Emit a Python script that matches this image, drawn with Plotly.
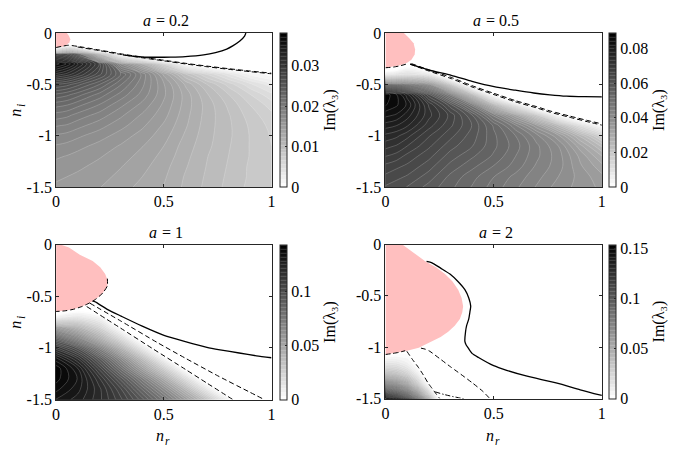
import plotly.graph_objects as go

W, H = 679, 455
FONT = "Liberation Serif"

# ---------------- data ----------------
# colour-bar maxima of Im(lambda_3)
zmax_values = [0.038, 0.089, 0.144, 0.154]
a_values = ["0.2", "0.5", "1", "2"]

# ---- panel 1 (a = 0.2) field: rows = n_i, columns = n_r
p1_nr = [0, 0.05, 0.1, 0.2, 0.3, 0.4, 0.5, 0.6, 0.7, 0.8, 0.9, 1.0]
p1_ni = [0, -0.1, -0.2, -0.3, -0.4, -0.5, -0.6, -0.7, -0.8, -0.9, -1.0, -1.1, -1.2, -1.3, -1.4, -1.5]
p1_z = [
    [-0.04, -0.03, -0.03, -0.06, -0.05, -0.05, -0.06, -0.05, -0.05, -0.05, -0.05, -0.05],
    [-0.02, -0.00725, -0.0111, -0.0223, -0.02, -0.03, -0.04, -0.03, -0.03, -0.03, -0.03, -0.03],
    [0.030, 0.029, 0.026, 0.012, -0.0005, -0.007, -0.013, -0.01, -0.015, -0.015, -0.015, -0.015],
    [0.0375, 0.036, 0.0335, 0.0285, 0.018, 0.013, 0.007, 0.0005, -0.0016, -0.0033, -0.0035, -0.0027],
    [0.033, 0.032, 0.0305, 0.027, 0.0228, 0.0187, 0.014, 0.0095, 0.0065, 0.004, 0.0015, 0.0003],
    [0.0275, 0.027, 0.026, 0.0238, 0.021, 0.0183, 0.0153, 0.0122, 0.0095, 0.0072, 0.005, 0.0032],
    [0.0245, 0.024, 0.0232, 0.0215, 0.0196, 0.0177, 0.0154, 0.0129, 0.0106, 0.0086, 0.0067, 0.005],
    [0.0222, 0.0219, 0.0212, 0.0199, 0.0183, 0.0168, 0.015, 0.0129, 0.011, 0.0093, 0.0076, 0.0062],
    [0.0205, 0.0202, 0.0196, 0.0186, 0.0173, 0.016, 0.0146, 0.0127, 0.011, 0.0096, 0.0081, 0.0069],
    [0.0191, 0.0189, 0.0184, 0.0175, 0.0165, 0.0154, 0.0141, 0.0125, 0.0109, 0.0097, 0.0084, 0.0073],
    [0.0179, 0.0177, 0.0173, 0.0166, 0.0157, 0.0148, 0.0137, 0.0122, 0.0108, 0.0097, 0.0085, 0.0075],
    [0.0170, 0.0168, 0.0165, 0.0158, 0.0151, 0.0143, 0.0133, 0.0119, 0.0107, 0.0096, 0.0085, 0.0076],
    [0.0163, 0.0161, 0.0158, 0.0153, 0.0147, 0.0139, 0.013, 0.0117, 0.0105, 0.0095, 0.0085, 0.0077],
    [0.0158, 0.0156, 0.0154, 0.0149, 0.0143, 0.0136, 0.0127, 0.0115, 0.0104, 0.0094, 0.0084, 0.0077],
    [0.0154, 0.0152, 0.015, 0.0146, 0.014, 0.0133, 0.0125, 0.0113, 0.0103, 0.0093, 0.0084, 0.0077],
    [0.015, 0.0149, 0.0147, 0.0143, 0.0137, 0.013, 0.0123, 0.0112, 0.0102, 0.0092, 0.0083, 0.0077],
]

# ---- panel 2 (a = 0.5) field
p2_nr = [0, 0.05, 0.1, 0.2, 0.3, 0.4, 0.5, 0.6, 0.7, 0.8, 0.9, 1.0]
p2_ni = [0, -0.1, -0.2, -0.3, -0.4, -0.5, -0.6, -0.7, -0.8, -0.9, -1.0, -1.1, -1.2, -1.3, -1.4, -1.5]
p2_z = [
    [-0.05] * 12,
    [-0.04] * 12,
    [-0.03] * 12,
    [-0.0187, -0.015, -0.0051, -0.0187, -0.03, -0.03, -0.03, -0.03, -0.03, -0.03, -0.03, -0.03],
    [0.008, 0.01, 0.012, 0.008, -0.0147, -0.03, -0.03, -0.03, -0.03, -0.03, -0.03, -0.03],
    [0.062, 0.06, 0.055, 0.044, 0.022, -0.00675, -0.03, -0.03, -0.03, -0.03, -0.03, -0.03],
    [0.088, 0.085, 0.079, 0.063, 0.048, 0.027, -0.0005, -0.0233, -0.03, -0.03, -0.03, -0.03],
    [0.087, 0.085, 0.082, 0.071, 0.061, 0.048, 0.028, 0.01, -0.0086, -0.018, -0.03, -0.03],
    [0.083, 0.082, 0.079, 0.072, 0.066, 0.058, 0.046, 0.034, 0.02, 0.002, -0.0098, -0.019],
    [0.079, 0.078, 0.076, 0.070, 0.065, 0.060, 0.053, 0.045, 0.036, 0.025, 0.012, 0.001],
    [0.075, 0.074, 0.072, 0.067, 0.063, 0.059, 0.054, 0.049, 0.043, 0.036, 0.026, 0.016],
    [0.072, 0.071, 0.069, 0.065, 0.061, 0.058, 0.054, 0.050, 0.045, 0.040, 0.032, 0.024],
    [0.069, 0.068, 0.066, 0.063, 0.059, 0.056, 0.053, 0.049, 0.045, 0.041, 0.035, 0.029],
    [0.066, 0.065, 0.064, 0.061, 0.057, 0.054, 0.051, 0.048, 0.044, 0.041, 0.036, 0.032],
    [0.064, 0.063, 0.062, 0.059, 0.055, 0.052, 0.049, 0.046, 0.043, 0.040, 0.037, 0.034],
    [0.062, 0.061, 0.060, 0.057, 0.054, 0.051, 0.048, 0.045, 0.042, 0.039, 0.037, 0.035],
]

# ---- panel 3 (a = 1) field
p3_nr = [0, 0.1, 0.2, 0.3, 0.4, 0.5, 0.6, 0.7, 0.8, 0.9, 1.0]
p3_ni = [-0.5, -0.6, -0.7, -0.8, -0.9, -1.0, -1.1, -1.2, -1.3, -1.4, -1.5]
p3_z = [
    [-0.05] * 11,
    [-0.028, -0.0115, -0.0167, -0.05, -0.05, -0.05, -0.05, -0.05, -0.05, -0.05, -0.05],
    [0.007, 0.014, 0.005, -0.02, -0.05, -0.05, -0.05, -0.05, -0.05, -0.05, -0.05],
    [0.062, 0.045, 0.025, -0.0019, -0.03, -0.05, -0.05, -0.05, -0.05, -0.05, -0.05],
    [0.092, 0.072, 0.047, 0.02, -0.0094, -0.04, -0.05, -0.05, -0.05, -0.05, -0.05],
    [0.116, 0.1, 0.074, 0.045, 0.013, -0.0172, -0.047, -0.05, -0.05, -0.05, -0.05],
    [0.134, 0.118, 0.094, 0.067, 0.038, 0.006, -0.026, -0.055, -0.06, -0.06, -0.06],
    [0.143, 0.13, 0.107, 0.082, 0.056, 0.029, -0.0019, -0.03, -0.06, -0.06, -0.06],
    [0.142, 0.133, 0.116, 0.096, 0.074, 0.05, 0.021, -0.009, -0.04, -0.06, -0.06],
    [0.138, 0.131, 0.12, 0.105, 0.086, 0.066, 0.042, 0.013, -0.016, -0.045, -0.06],
    [0.133, 0.128, 0.12, 0.109, 0.095, 0.078, 0.058, 0.035, 0.007, -0.028, -0.06],
]

# ---- panel 4 (a = 2) field
p4_nr = [0, 0.05, 0.1, 0.15, 0.2, 0.25, 0.3]
p4_ni = [-1.0, -1.05, -1.1, -1.15, -1.2, -1.25, -1.3, -1.35, -1.4, -1.45, -1.5]
p4_z = [
    [-0.03] * 7,
    [-0.006, -0.004, -0.002, -0.03, -0.03, -0.03, -0.03],
    [0.004, 0.005, 0.003, -0.0049, -0.02, -0.03, -0.03],
    [0.015, 0.014, 0.008, -0.0031, -0.02, -0.03, -0.03],
    [0.028, 0.025, 0.016, 0.001, -0.0157, -0.03, -0.03],
    [0.043, 0.038, 0.027, 0.008, -0.0142, -0.03, -0.03],
    [0.062, 0.055, 0.042, 0.019, -0.0093, -0.03, -0.03],
    [0.082, 0.074, 0.058, 0.032, -0.0019, -0.03, -0.03],
    [0.105, 0.094, 0.078, 0.05, 0.014, -0.0327, -0.05],
    [0.13, 0.118, 0.1, 0.072, 0.032, -0.018, -0.04],
    [0.152, 0.14, 0.122, 0.095, 0.06, 0.0005, -0.04],
]

# ---- pink regions (n_r, n_i boundary)
pink1_nr = [0, 0.05, 0.06, 0.066, 0.062, 0.05, 0.03, 0.0]
pink1_ni = [0, 0, -0.03, -0.06, -0.09, -0.115, -0.133, -0.142]
pink2_nr = [0, 0.085, 0.11, 0.13, 0.137, 0.135, 0.12, 0.1, 0.07, 0.035, 0]
pink2_ni = [0, 0, -0.05, -0.1, -0.16, -0.21, -0.26, -0.29, -0.315, -0.33, -0.338]
pink3_nr = [0, 0.02, 0.06, 0.11, 0.17, 0.205, 0.228, 0.24, 0.238, 0.22, 0.2, 0.18, 0.156, 0.12, 0.08, 0.04, 0]
pink3_ni = [0, 0, -0.03, -0.1, -0.16, -0.22, -0.286, -0.35, -0.40, -0.46, -0.503, -0.535, -0.565, -0.6, -0.627, -0.642, -0.648]
pink4_nr = [0, 0.078, 0.13, 0.184, 0.235, 0.275, 0.31, 0.336, 0.352, 0.359, 0.355, 0.344, 0.32, 0.29, 0.255,
            0.215, 0.154, 0.1, 0.062, 0.03, 0]
pink4_ni = [0, 0, -0.08, -0.1625, -0.225, -0.2875, -0.36, -0.44, -0.52, -0.6, -0.66, -0.725, -0.79, -0.85, -0.9,
            -0.944, -1.006, -1.035, -1.05, -1.062, -1.071]

# ---- curves: (n_r list, n_i list, style)
p1_lines = [
    ([0, 0.03, 0.058, 0.1, 0.2, 0.302, 0.4, 0.5, 0.608, 0.7, 0.8, 0.9, 1.0],
     [-0.141, -0.128, -0.119, -0.13, -0.165, -0.203, -0.235, -0.265, -0.297, -0.322, -0.347, -0.37, -0.391], "dash"),
    ([0.1, 0.2, 0.302, 0.4, 0.5, 0.608, 0.7, 0.8, 0.9, 1.0],
     [-0.136, -0.171, -0.209, -0.241, -0.271, -0.303, -0.328, -0.353, -0.376, -0.397], "dash"),
    ([0.881, 0.875, 0.853, 0.82, 0.792, 0.74, 0.685, 0.6, 0.532, 0.47, 0.41, 0.36, 0.31],
     [0, -0.03, -0.078, -0.125, -0.156, -0.19, -0.213, -0.23, -0.235, -0.236, -0.234, -0.226, -0.212], "solid"),
]
p2_lines = [
    ([0, 0.035, 0.07, 0.1], [-0.338, -0.332, -0.318, -0.30], "dash"),
    ([0.114, 0.2, 0.304, 0.4, 0.502, 0.6, 0.7, 0.761, 0.85, 0.95, 1.0],
     [-0.303, -0.37, -0.444, -0.525, -0.60, -0.67, -0.73, -0.771, -0.82, -0.872, -0.897], "dash"),
    ([0.12, 0.2, 0.304, 0.4, 0.502, 0.6, 0.7, 0.761, 0.85, 0.95, 1.0],
     [-0.298, -0.358, -0.432, -0.513, -0.588, -0.658, -0.718, -0.759, -0.808, -0.86, -0.885], "dash"),
    ([0.114, 0.2, 0.304, 0.4, 0.502, 0.6, 0.685, 0.76, 0.837, 0.92, 1.0],
     [-0.303, -0.36, -0.412, -0.47, -0.522, -0.557, -0.584, -0.602, -0.615, -0.62, -0.622], "solid"),
]
p3_lines = [
    ([0.238, 0.238, 0.22, 0.2, 0.18, 0.156, 0.12, 0.08, 0.04, 0],
     [-0.33, -0.40, -0.46, -0.503, -0.535, -0.565, -0.6, -0.627, -0.642, -0.648], "dash"),
    ([0.17, 0.18, 0.24, 0.302, 0.4, 0.501, 0.6, 0.7, 0.761, 0.85, 0.93, 1.0],
     [-0.545, -0.553, -0.63, -0.693, -0.79, -0.879, -0.94, -0.995, -1.019, -1.05, -1.077, -1.096], "solid"),
    ([0.157, 0.3, 0.471, 0.6, 0.75, 0.9, 0.96],
     [-0.568, -0.74, -0.95, -1.1, -1.27, -1.43, -1.494], "dash"),
    ([0.142, 0.3, 0.45, 0.6, 0.7, 0.82],
     [-0.60, -0.81, -1.01, -1.208, -1.341, -1.5], "dash"),
]
p4_lines = [
    ([0, 0.03, 0.062, 0.091], [-1.071, -1.062, -1.05, -1.034], "dash"),
    ([0.099, 0.125, 0.152, 0.175, 0.198, 0.215, 0.236, 0.251],
     [-1.04, -1.12, -1.196, -1.27, -1.352, -1.4, -1.46, -1.5], "dash"),
    ([0.23, 0.27, 0.31, 0.35, 0.37], [-1.435, -1.46, -1.48, -1.497, -1.505], "dashdot"),
    ([0.164, 0.185, 0.205, 0.25, 0.3, 0.335, 0.4, 0.45, 0.479],
     [-1.009, -1.02, -1.04, -1.11, -1.19, -1.243, -1.345, -1.43, -1.493], "dash"),
    ([0.19, 0.215, 0.255, 0.298, 0.335, 0.367, 0.385, 0.394, 0.39, 0.385, 0.375, 0.37, 0.367, 0.373, 0.382,
      0.40, 0.43, 0.5, 0.56, 0.65, 0.793, 0.9, 1.0],
     [-0.165, -0.178, -0.23, -0.2875, -0.36, -0.44, -0.52, -0.6, -0.66, -0.725, -0.79, -0.85, -0.944, -0.978,
      -1.006, -1.06, -1.1, -1.18, -1.225, -1.28, -1.35, -1.415, -1.47], "solid"),
]

cb_ticks = [
    [0, 0.01, 0.02, 0.03],
    [0, 0.02, 0.04, 0.06, 0.08],
    [0, 0.05, 0.1],
    [0, 0.05, 0.1, 0.15],
]
cb_ticktext = [
    ["0", "0.01", "0.02", "0.03"],
    ["0", "0.02", "0.04", "0.06", "0.08"],
    ["0", "0.05", "0.1"],
    ["0", "0.05", "0.1", "0.15"],
]
cb_title = "Im(λ\u2083)"

# ---------------- layout geometry (pixels) ----------------
plot_px = [  # left, right, top, bottom
    (52.7, 270.7, 26.0, 186.0),
    (386.0, 605.0, 26.0, 186.0),
    (52.7, 270.7, 245.7, 406.7),
    (386.0, 605.0, 245.7, 405.7),
]
cb_left_px = [279.3, 612.7, 279.3, 612.7]

fields = [(p1_nr, p1_ni, p1_z), (p2_nr, p2_ni, p2_z), (p3_nr, p3_ni, p3_z), (p4_nr, p4_ni, p4_z)]
pinks = [(pink1_nr, pink1_ni), (pink2_nr, pink2_ni), (pink3_nr, pink3_ni), (pink4_nr, pink4_ni)]
lines = [p1_lines, p2_lines, p3_lines, p4_lines]

dash_map = {"solid": "solid", "dash": "5px,3px", "dashdot": "5px,2px,1.5px,2px"}


def tfont(size=16, style="normal"):
    return dict(family=FONT, size=size, color="black", style=style)


def text_w(s):
    # rough pixel width of a string at 16 px
    w = 0
    for ch in s:
        w += {"=": 9, " ": 4, ".": 4}.get(ch, 8)
    return w


fig = go.Figure()

for k in range(4):
    ax = "" if k == 0 else str(k + 1)
    xa, ya = "x" + ax, "y" + ax
    nr, ni, z = fields[k]
    zm = zmax_values[k]
    l, r, t, b = plot_px[k]
    fig.add_trace(go.Contour(
        x=nr, y=ni, z=z, xaxis=xa, yaxis=ya,
        colorscale=[[0, "#ffffff"], [1, "#000000"]], zmin=0, zmax=zm,
        contours=dict(start=0, end=zm, size=zm / 40, coloring="fill", showlines=True),
        line=dict(color="rgba(255,255,255,0.4)", width=0.5, smoothing=1),
        hoverinfo="skip",
        colorbar=dict(
            x=cb_left_px[k] / W, xanchor="left", xref="paper",
            y=1 - b / H, yanchor="bottom", yref="paper",
            len=(b - t) / H, lenmode="fraction",
            thickness=7, thicknessmode="pixels", xpad=0, ypad=0,
            outlinewidth=1, outlinecolor="#262626",
            tickmode="array", tickvals=cb_ticks[k], ticktext=cb_ticktext[k],
            ticks="inside", ticklen=2, tickcolor="#262626",
            tickfont=tfont(),
            title=dict(text=cb_title, side="right", font=tfont()),
        ),
    ))
    pnr, pni = pinks[k]
    fig.add_trace(go.Scatter(x=pnr, y=pni, xaxis=xa, yaxis=ya, mode="lines", fill="toself",
                             fillcolor="#ffbfbf", line=dict(width=0, color="#ffbfbf"),
                             hoverinfo="skip", showlegend=False))
    for (lx, ly, st) in lines[k]:
        fig.add_trace(go.Scatter(x=lx, y=ly, xaxis=xa, yaxis=ya, mode="lines",
                                 line=dict(color="black", width=1.3 if st == "solid" else 1.0,
                                           dash=dash_map[st], shape="spline", smoothing=0.6),
                                 hoverinfo="skip", showlegend=False))

layout = dict(
    width=W, height=H, margin=dict(l=0, r=0, t=0, b=0),
    paper_bgcolor="white", plot_bgcolor="white", showlegend=False,
    font=dict(family=FONT, size=16, color="black"),
)
axis_common = dict(showgrid=False, zeroline=False, showline=True, linecolor="#262626", linewidth=1,
                   mirror="ticks", ticks="inside", ticklen=3, tickcolor="#262626", tickwidth=1)


def ann(text, xpx, ypx, size=16, style="normal", xanchor="center", angle=0):
    return dict(text=text, x=xpx / W, y=1 - ypx / H, xref="paper", yref="paper",
                xanchor=xanchor, yanchor="middle", textangle=angle, showarrow=False,
                font=tfont(size, style))


annotations = []
for k in range(4):
    ax = "" if k == 0 else str(k + 1)
    l, r, t, b = plot_px[k]
    cx = (l + r) / 2
    layout["xaxis" + ax] = dict(axis_common, domain=[l / W, r / W], anchor="y" + ax, range=[0, 1],
                                tickmode="array", tickvals=[0, 0.5, 1], ticktext=["0", "0.5", "1"],
                                tickfont=tfont())
    layout["yaxis" + ax] = dict(axis_common, domain=[1 - b / H, 1 - t / H], anchor="x" + ax, range=[-1.5, 0],
                                tickmode="array", tickvals=[0, -0.5, -1, -1.5],
                                ticktext=["0", "-0.5", "-1", "-1.5"], tickfont=tfont())
    # title "a = value" (italic a)
    rest = "= " + a_values[k]
    total = 8 + 5 + text_w(rest)
    x0 = cx - total / 2
    ty = t - 13
    annotations.append(ann("a", x0, ty, style="italic", xanchor="left"))
    annotations.append(ann(rest, x0 + 13, ty, xanchor="left"))
    if k >= 2:
        annotations.append(ann("n", cx - 4, 444, style="italic"))
        annotations.append(ann("r", cx + 4, 449.5, size=11.5, style="italic"))
    if k in (0, 2):
        cy = (t + b) / 2
        annotations.append(ann("n", 12, cy + 3, style="italic", angle=-90))
        annotations.append(ann("i", 17, cy - 5, size=11.5, style="italic", angle=-90))
layout["annotations"] = annotations
fig.update_layout(**layout)
fig.write_html("out.html")
